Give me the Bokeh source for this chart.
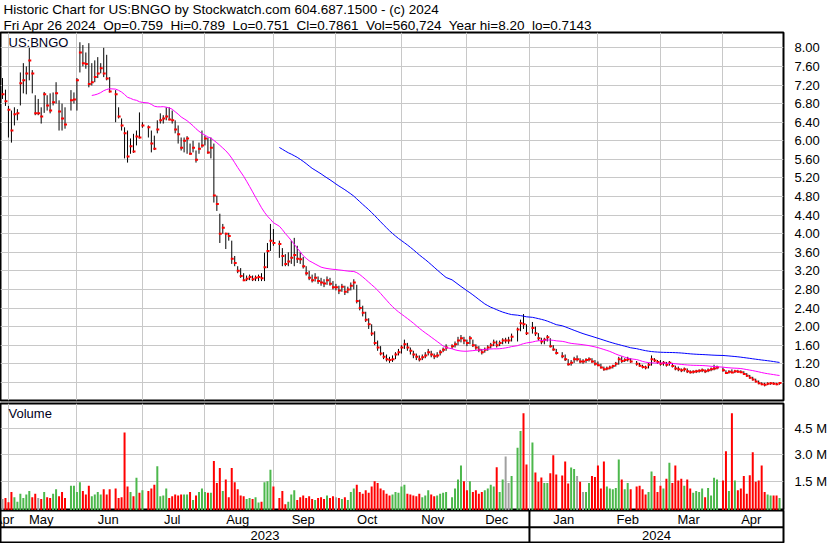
import numpy as np
import pandas as pd
from bokeh.plotting import figure
from bokeh.models import (ColumnDataSource, Range1d, FixedTicker, PrintfTickFormatter,
                          CustomJSTickFormatter, Title, Label, Span, Grid)
from bokeh.layouts import column
from bokeh.transform import dodge
from bokeh.core.properties import value
from bokeh.embed import file_html
from bokeh.resources import INLINE

FONT = "Liberation Sans"

# ---------------- data ----------------
HOLIDAYS = ["2023-05-29", "2023-06-19", "2023-07-04", "2023-09-04", "2023-11-23",
            "2023-12-25", "2024-01-01", "2024-01-15", "2024-02-19", "2024-03-29"]
dates = pd.bdate_range("2023-04-27", "2024-04-26", freq="C", holidays=HOLIDAYS)

high = [
    7.35, 7.10,  # Apr 23
    6.75, 6.65, 6.72, 6.68, 7.47, 7.67, 7.60, 8.00, 7.52, 6.98, 6.90, 6.72, 7.05, 6.98, 7.02, 7.04, 7.26, 6.87, 6.80, 6.72, 7.09, 7.04,  # May
    7.35, 8.12, 8.06, 7.90, 8.10, 7.67, 7.73, 7.80, 7.67, 8.00, 7.85, 7.37, 7.09, 6.72, 6.48, 6.29, 6.22, 6.05, 6.15, 6.22, 6.61,  # Jun
    6.40, 6.33, 6.22, 6.11, 6.44, 6.59, 6.55, 6.72, 6.72, 6.65, 6.44, 6.33, 6.07, 6.07, 6.10, 5.94, 6.00, 5.79, 5.96, 6.22,  # Jul
    6.11, 6.07, 6.07, 5.94, 4.82, 4.43, 4.21, 4.02, 4.02, 3.85, 3.52, 3.30, 3.26, 3.15, 3.10, 3.12, 3.10, 3.10, 3.12, 3.15, 3.59, 3.80, 4.21,  # Aug
    4.10, 3.85, 3.69, 3.56, 3.60, 3.85, 3.91, 3.74, 3.60, 3.50, 3.30, 3.20, 3.12, 3.15, 3.08, 3.05, 3.02, 3.08, 3.05, 2.98,  # Sep
    2.92, 2.88, 2.92, 2.88, 2.86, 2.95, 3.02, 2.90, 2.58, 2.45, 2.32, 2.18, 2.05, 1.90, 1.70, 1.58, 1.45, 1.40, 1.35, 1.38, 1.45, 1.52,  # Oct
    1.60, 1.72, 1.65, 1.55, 1.48, 1.42, 1.38, 1.40, 1.45, 1.52, 1.48, 1.42, 1.45, 1.50, 1.55, 1.62, 1.62, 1.68, 1.78, 1.82, 1.78,  # Nov
    1.72, 1.80, 1.72, 1.62, 1.58, 1.52, 1.55, 1.60, 1.65, 1.72, 1.70, 1.70, 1.75, 1.76, 1.78, 1.85, 1.98, 2.15, 2.27, 2.05,  # Dec
    2.10, 2.00, 1.86, 1.76, 1.76, 1.82, 1.75, 1.60, 1.52, 1.45, 1.40, 1.30, 1.28, 1.35, 1.38, 1.32, 1.30, 1.32, 1.34, 1.32, 1.28,  # Jan 24
    1.25, 1.20, 1.14, 1.14, 1.16, 1.18, 1.24, 1.35, 1.36, 1.32, 1.35, 1.32, 1.26, 1.22, 1.18, 1.16, 1.22, 1.38, 1.32, 1.28,  # Feb
    1.28, 1.26, 1.24, 1.26, 1.22, 1.16, 1.14, 1.10, 1.12, 1.10, 1.06, 1.06, 1.07, 1.08, 1.10, 1.08, 1.10, 1.12, 1.18, 1.16,  # Mar
    1.12, 1.06, 1.06, 1.08, 1.07, 1.07, 1.06, 1.04, 1.00, 0.96, 0.92, 0.88, 0.84, 0.80, 0.79, 0.80, 0.80, 0.80, 0.79, 0.789,  # Apr
]
low = [
    6.90, 6.75,
    6.07, 5.96, 6.33, 6.44, 6.76, 7.02, 7.00, 7.30, 7.02, 6.55, 6.55, 6.37, 6.60, 6.65, 6.59, 6.76, 6.80, 6.22, 6.22, 6.26, 6.65, 6.80,
    6.65, 7.47, 7.60, 7.55, 7.15, 7.19, 7.26, 7.35, 7.45, 7.37, 7.30, 7.04, 6.40, 6.48, 6.22, 5.62, 5.53, 5.72, 5.74, 5.90, 6.05,
    6.28, 6.07, 5.75, 5.80, 6.16, 6.37, 6.37, 6.44, 6.44, 6.37, 6.16, 5.94, 5.79, 5.75, 5.72, 5.70, 5.75, 5.53, 5.72, 5.85,
    5.90, 5.72, 5.62, 4.67, 4.49, 3.80, 4.00, 3.67, 3.85, 3.35, 3.30, 3.15, 3.05, 2.98, 2.98, 3.00, 2.98, 2.98, 2.98, 2.98, 2.98, 3.26, 3.63,
    3.74, 3.48, 3.30, 3.30, 3.30, 3.35, 3.30, 3.37, 3.35, 3.25, 3.10, 3.00, 2.95, 2.97, 2.92, 2.88, 2.85, 2.90, 2.88, 2.80,
    2.78, 2.70, 2.75, 2.68, 2.72, 2.78, 2.80, 2.50, 2.35, 2.22, 2.10, 1.95, 1.80, 1.60, 1.48, 1.38, 1.30, 1.25, 1.22, 1.24, 1.30, 1.38,
    1.42, 1.52, 1.48, 1.40, 1.32, 1.28, 1.25, 1.28, 1.32, 1.38, 1.34, 1.30, 1.33, 1.38, 1.45, 1.48, 1.52, 1.55, 1.60, 1.66, 1.62,
    1.58, 1.62, 1.56, 1.50, 1.45, 1.40, 1.44, 1.48, 1.53, 1.58, 1.55, 1.58, 1.62, 1.64, 1.63, 1.68, 1.68, 1.90, 1.95, 1.82,
    1.85, 1.80, 1.70, 1.62, 1.62, 1.68, 1.55, 1.48, 1.40, 1.32, 1.26, 1.16, 1.16, 1.22, 1.25, 1.21, 1.20, 1.22, 1.25, 1.22, 1.16,
    1.15, 1.10, 1.05, 1.06, 1.08, 1.10, 1.14, 1.18, 1.22, 1.24, 1.25, 1.22, 1.16, 1.14, 1.10, 1.08, 1.10, 1.16, 1.24, 1.20,
    1.16, 1.16, 1.14, 1.16, 1.12, 1.06, 1.04, 1.02, 1.03, 1.00, 0.99, 0.99, 1.00, 1.01, 1.02, 1.00, 1.02, 1.04, 1.06, 1.08,
    1.03, 0.98, 0.99, 1.00, 1.00, 1.01, 1.00, 0.96, 0.92, 0.88, 0.84, 0.80, 0.76, 0.74, 0.714, 0.74, 0.75, 0.75, 0.74, 0.751,
]
close = [
    7.00, 6.85,
    6.67, 6.22, 6.57, 6.59, 7.24, 7.30, 7.45, 7.73, 7.45, 6.59, 6.59, 6.52, 7.00, 6.76, 6.65, 6.83, 7.02, 6.63, 6.48, 6.35, 6.87, 6.89,
    7.30, 7.90, 7.67, 7.65, 7.22, 7.26, 7.37, 7.45, 7.56, 7.45, 7.34, 7.06, 7.00, 6.52, 6.33, 6.16, 5.66, 5.88, 5.77, 6.09, 6.07,
    6.33, 6.29, 5.94, 5.83, 6.24, 6.44, 6.48, 6.52, 6.46, 6.44, 6.24, 6.14, 5.85, 6.00, 6.05, 5.72, 5.85, 5.59, 5.83, 5.90,
    6.05, 5.75, 5.85, 4.82, 4.64, 4.00, 4.13, 4.00, 3.95, 3.46, 3.37, 3.20, 3.09, 3.00, 3.03, 3.07, 3.02, 3.05, 3.07, 3.04, 3.28, 3.63, 3.85,
    3.80, 3.78, 3.52, 3.35, 3.40, 3.48, 3.54, 3.46, 3.45, 3.30, 3.15, 3.05, 3.00, 3.05, 2.98, 2.95, 2.93, 3.00, 2.92, 2.85,
    2.85, 2.78, 2.86, 2.75, 2.80, 2.88, 2.95, 2.55, 2.40, 2.30, 2.15, 2.05, 1.85, 1.65, 1.55, 1.42, 1.35, 1.30, 1.28, 1.30, 1.40, 1.45,
    1.55, 1.62, 1.55, 1.48, 1.40, 1.35, 1.30, 1.34, 1.38, 1.45, 1.40, 1.36, 1.38, 1.45, 1.50, 1.55, 1.58, 1.62, 1.70, 1.75, 1.70,
    1.65, 1.75, 1.60, 1.55, 1.50, 1.45, 1.50, 1.55, 1.60, 1.66, 1.60, 1.65, 1.70, 1.70, 1.70, 1.78, 1.94, 2.07, 2.05, 1.86,
    1.97, 1.86, 1.75, 1.68, 1.72, 1.77, 1.58, 1.51, 1.43, 1.36, 1.30, 1.19, 1.22, 1.30, 1.30, 1.25, 1.25, 1.28, 1.30, 1.25, 1.20,
    1.17, 1.12, 1.08, 1.10, 1.12, 1.15, 1.20, 1.30, 1.26, 1.28, 1.30, 1.25, 1.20, 1.16, 1.13, 1.12, 1.18, 1.30, 1.27, 1.24,
    1.20, 1.22, 1.18, 1.22, 1.15, 1.10, 1.08, 1.06, 1.08, 1.04, 1.02, 1.03, 1.04, 1.05, 1.06, 1.04, 1.06, 1.08, 1.10, 1.12,
    1.06, 1.00, 1.03, 1.01, 1.04, 1.03, 1.02, 0.98, 0.94, 0.90, 0.86, 0.82, 0.78, 0.76, 0.75, 0.77, 0.78, 0.77, 0.76, 0.7861,
]
volume_m = [
    0.50, 0.55,
    0.32, 0.90, 0.60, 0.35, 0.80, 0.55, 0.75, 0.95, 0.60, 0.80, 0.55, 0.50, 0.90, 0.60, 0.55, 0.80, 1.05, 0.65, 0.90, 0.55, 1.25, 1.25,
    0.90, 1.45, 0.95, 0.75, 1.25, 0.65, 0.75, 0.90, 0.75, 1.05, 0.75, 1.05, 1.10, 0.55, 0.60, 4.26, 1.20, 0.90, 0.65, 1.70, 0.85,
    1.00, 0.95, 1.10, 1.30, 2.35, 0.65, 0.70, 1.10, 0.55, 0.65, 0.75, 0.70, 0.75, 0.75, 0.75, 0.90, 0.45, 0.70, 0.90, 1.10,
    0.90, 0.85, 0.85, 2.65, 1.40, 2.25, 0.95, 1.60, 0.60, 2.25, 1.45, 1.05, 0.70, 0.65, 0.50, 0.55, 0.50, 0.60, 0.30, 0.35, 1.45, 1.50, 2.15,
    1.20, 0.55, 0.95, 0.20, 0.35, 0.75, 1.00, 0.45, 0.60, 0.70, 0.55, 0.65, 0.50, 0.45, 0.55, 0.60, 0.50, 0.70, 0.55, 0.65,
    0.60, 0.55, 0.50, 0.60, 0.45, 0.90, 1.10, 1.30, 0.90, 0.80, 1.00, 0.85, 1.20, 1.50, 1.40, 1.10, 1.00, 0.80, 0.70, 0.75, 0.90, 0.85,
    1.20, 1.30, 0.80, 0.75, 0.70, 0.65, 0.80, 0.60, 0.70, 1.00, 0.75, 0.65, 0.70, 0.80, 0.85, 0.90, 0.60, 1.10, 1.60, 2.40, 1.50,
    1.00, 1.50, 0.90, 1.00, 0.80, 0.90, 1.00, 1.10, 1.30, 1.20, 2.30, 0.90, 1.60, 2.90, 1.40, 1.80, 3.40, 4.35, 5.35, 2.45,
    3.70, 2.00, 1.47, 1.72, 1.40, 1.40, 1.95, 2.97, 1.88, 1.83, 2.62, 1.38, 2.28, 2.20, 1.80, 1.47, 0.90, 0.90, 1.40, 1.80, 1.75,
    2.40, 1.10, 2.62, 1.20, 1.10, 1.05, 1.12, 2.74, 1.60, 1.05, 1.40, 1.05, 1.20, 1.25, 1.05, 0.75, 0.90, 2.05, 1.80, 0.90,
    1.25, 1.10, 1.65, 2.55, 1.40, 2.40, 1.55, 1.65, 1.25, 1.60, 1.10, 0.85, 0.95, 0.90, 1.10, 0.60, 1.12, 0.70, 1.70, 1.60,
    1.55, 3.20, 0.95, 5.35, 1.55, 1.00, 1.10, 1.80, 0.80, 1.85, 3.15, 1.47, 1.55, 2.40, 0.90, 0.75, 0.70, 0.70, 0.70, 0.56,
]

price_ticks = [0.80, 1.20, 1.60, 2.00, 2.40, 2.80, 3.20, 3.60, 4.00, 4.40,
               4.80, 5.20, 5.60, 6.00, 6.40, 6.80, 7.20, 7.60, 8.00]
volume_ticks = [1.5, 3.0, 4.5]
ma_short, ma_long = 30, 90
symbol = "US:BNGO"
GAP = "\u00a0 "
header_1 = "Historic Chart for US:BNGO by Stockwatch.com 604.687.1500 - (c) 2024"
header_2 = GAP.join(["Fri Apr 26 2024", "Op=0.759", "Hi=0.789", "Lo=0.751", "Cl=0.7861",
                     "Vol=560,724", "Year hi=8.20", "lo=0.7143"])

# ---------------- derived positions (weekday axis, holidays leave gaps) ----------------
ORIGIN = np.datetime64("2023-05-01")
d64 = dates.values.astype("datetime64[D]")
w = np.busday_count(ORIGIN, d64).astype(float)

RED, GREEN, GRAY = "#ff0000", "#4cb84c", "#a0a0a0"
chg = np.diff(np.array(close), prepend=np.nan)
vcol = np.where(chg > 0, GREEN, np.where(chg < 0, RED, GRAY))
cs = pd.Series(close)
ma1 = cs.rolling(ma_short).mean().to_numpy()
ma2 = cs.rolling(ma_long).mean().to_numpy()

src = ColumnDataSource(dict(w=w, high=high, low=low, close=close, vol=volume_m,
                            vcol=list(vcol), ma1=ma1, ma2=ma2))

month_firsts = pd.date_range("2023-05-01", "2024-04-01", freq="MS").values.astype("datetime64[D]")
month_grid = np.busday_count(ORIGIN, np.busday_offset(month_firsts, 0, roll="forward")).astype(float).tolist()

dfm = pd.DataFrame({"w": w, "m": dates.to_period("M")})
grp = dfm.groupby("m")["w"].agg(["min", "max"])
mon_x = ((grp["min"] + grp["max"]) / 2).tolist()
mon_t = [per.strftime("%b") for per in grp.index]

year_break = float(np.busday_count(ORIGIN, np.datetime64("2024-01-01")))

# ---------------- figures ----------------
xr = Range1d(-2.67, 260.33)
W = 830
RIGHT = 40
GRIDC = "#c8c8c8"
FS = "13px"


def base(height, y_range, right_axis=True, **kw):
    f = figure(width=W, height=height, x_range=xr, y_range=y_range,
               output_backend="svg", toolbar_location=None, title=None,
               x_axis_location=None, y_axis_location="right" if right_axis else None,
               min_border_left=0, min_border_right=RIGHT, **kw)
    f.center = [r for r in f.center if not isinstance(r, Grid)]
    f.outline_line_color = "black"
    f.outline_line_width = 2
    f.outline_line_alpha = 1
    f.background_fill_color = "white"
    f.border_fill_color = "white"
    return f


def style_axis(ax):
    ax.major_tick_line_color = None
    ax.minor_tick_line_color = None
    ax.axis_line_color = None
    ax.major_label_standoff = 5
    ax.major_label_text_font = FONT
    ax.major_label_text_font_size = FS
    ax.major_label_text_color = "black"


# price panel
p = base(402, Range1d(0.41, 8.33), min_border_top=0, min_border_bottom=2)
p.add_layout(Title(text=header_2, align="left", offset=3, standoff=-1, text_font=FONT,
                   text_font_size="13.5px", text_font_style="normal", text_color="black"), "above")
p.add_layout(Title(text=header_1, align="left", offset=3, standoff=-1, text_font=FONT,
                   text_font_size="13.5px", text_font_style="normal", text_color="black"), "above")
p.add_layout(Grid(dimension=0, ticker=FixedTicker(ticks=month_grid), grid_line_color=GRIDC))
p.add_layout(Grid(dimension=1, ticker=FixedTicker(ticks=price_ticks), grid_line_color=GRIDC))
p.yaxis.ticker = FixedTicker(ticks=price_ticks)
p.yaxis.formatter = PrintfTickFormatter(format="%.2f")
style_axis(p.yaxis[0])

p.segment(x0="w", y0="low", x1="w", y1="high", source=src, line_color="black", line_width=1)
p.rect(x=dodge("w", 0.17, range=xr), y="close", width=1.0, height=2, height_units="screen",
       source=src, fill_color=RED, line_color=None)
p.line("w", "ma1", source=src, line_color="#ff00ff", line_width=1)
p.line("w", "ma2", source=src, line_color="#0000ff", line_width=1)
p.add_layout(Label(x=xr.start, y=p.y_range.end, x_offset=8, y_offset=-2, text=symbol,
                   text_baseline="top", text_font=FONT, text_font_size=FS,
                   text_color="#000020"))

# volume panel
v = base(108, Range1d(-0.15, 5.9), min_border_top=1, min_border_bottom=0)
v.add_layout(Grid(dimension=0, ticker=FixedTicker(ticks=month_grid), grid_line_color=GRIDC))
v.add_layout(Grid(dimension=1, ticker=FixedTicker(ticks=volume_ticks), grid_line_color=GRIDC))
v.yaxis.ticker = FixedTicker(ticks=volume_ticks)
v.yaxis.formatter = CustomJSTickFormatter(code="return tick.toFixed(1) + ' M'")
style_axis(v.yaxis[0])
v.vbar(x="w", top="vol", bottom=v.y_range.start - 0.1, width=0.67, source=src,
       fill_color="vcol", line_color=None)
v.add_layout(Label(x=xr.start, y=v.y_range.end, x_offset=8, y_offset=-2, text="Volume",
                   text_baseline="top", text_font=FONT, text_font_size=FS,
                   text_color="#000020"))

# month / year rows
a = base(33, Range1d(0, 1), right_axis=False, min_border_top=0, min_border_bottom=0)
msrc = ColumnDataSource(dict(x=mon_x, y=[0.74] * len(mon_x), t=mon_t))
a.text(x="x", y="y", text="t", source=msrc, text_align="center", text_baseline="middle",
       text_font=value(FONT), text_font_size=FS, text_color="black")
ysrc = ColumnDataSource(dict(x=[(xr.start + year_break) / 2, (year_break + xr.end) / 2],
                             y=[0.24, 0.24], t=["2023", "2024"]))
a.text(x="x", y="y", text="t", source=ysrc, text_align="center", text_baseline="middle",
       text_font=value(FONT), text_font_size=FS, text_color="black")
a.add_layout(Span(location=0.49, dimension="width", line_color="black", line_width=2))
a.add_layout(Span(location=year_break, dimension="height", line_color="black", line_width=2))

layout = column(p, v, a, spacing=0)
open("out.html", "w").write(file_html(layout, INLINE))
